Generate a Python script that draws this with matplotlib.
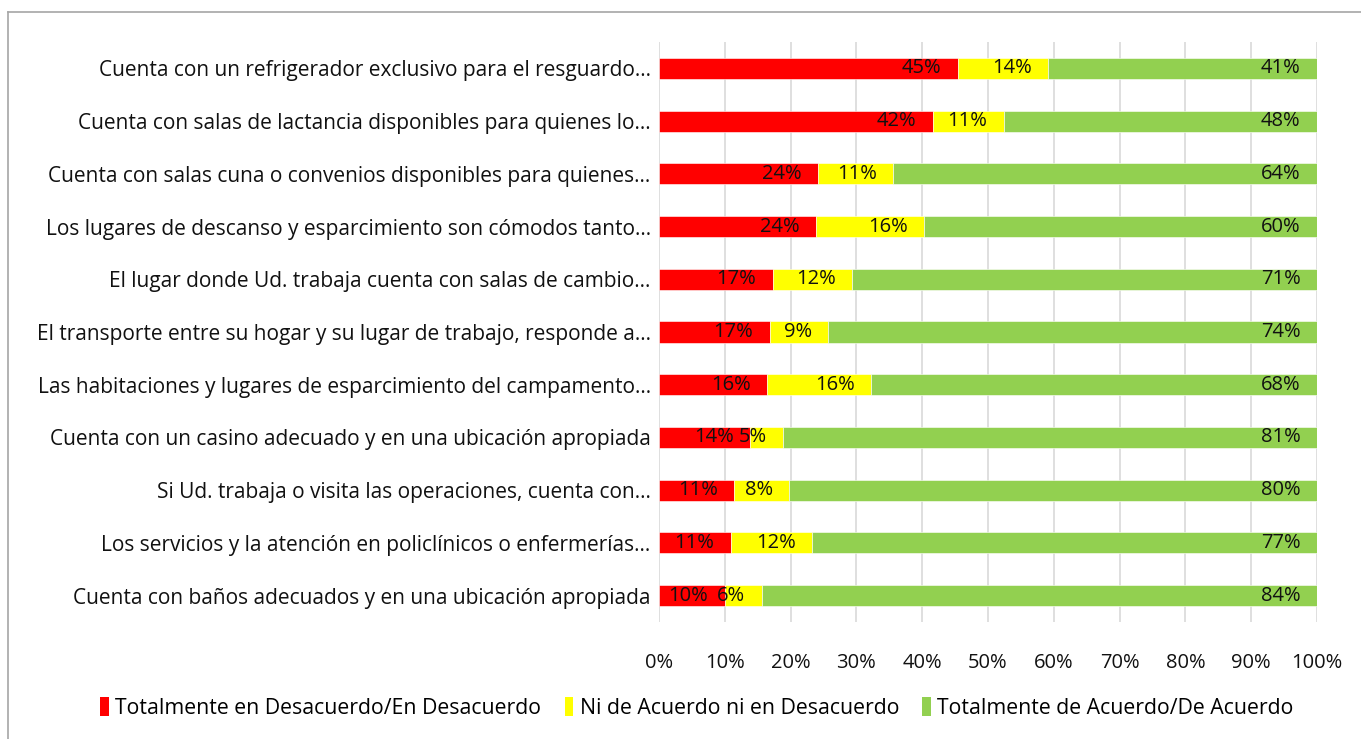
import matplotlib
matplotlib.use("Agg")
import matplotlib.pyplot as plt
from matplotlib.lines import Line2D
from matplotlib.patches import Patch

categories = [
    "Cuenta con un refrigerador exclusivo para el resguardo...",
    "Cuenta con salas de lactancia disponibles para quienes lo...",
    "Cuenta con salas cuna o convenios disponibles para quienes...",
    "Los lugares de descanso y esparcimiento son cómodos tanto...",
    "El lugar donde Ud. trabaja cuenta con salas de cambio...",
    "El transporte entre su hogar y su lugar de trabajo, responde a...",
    "Las habitaciones y lugares de esparcimiento del campamento...",
    "Cuenta con un casino adecuado y en una ubicación apropiada",
    "Si Ud. trabaja o visita las operaciones, cuenta con...",
    "Los servicios y la atención en policlínicos o enfermerías...",
    "Cuenta con baños adecuados y en una ubicación apropiada",
]
desacuerdo = [45.4, 41.6, 24.2, 23.9, 17.3, 16.8, 16.4, 13.9, 11.4, 10.9, 10.0]
neutral    = [13.7, 10.8, 11.4, 16.4, 12.1, 8.9, 15.8, 5.0, 8.4, 12.4, 5.6]
acuerdo    = [40.9, 47.6, 64.4, 59.7, 70.6, 74.3, 67.8, 81.1, 80.2, 76.7, 84.4]
series_names = ["Totalmente en Desacuerdo/En Desacuerdo",
                "Ni de Acuerdo ni en Desacuerdo",
                "Totalmente de Acuerdo/De Acuerdo"]
colors = ["#FF0000", "#FFFF00", "#92D050"]
xticks = [0, 10, 20, 30, 40, 50, 60, 70, 80, 90, 100]

FONT = "Open Sans"
FS_CAT = 15
FS_VAL = 14.5
FS_LEG = 15.3
TXT = "#111111"

W, H = 1361, 739
fig = plt.figure(figsize=(W / 100, H / 100), dpi=100)
ax = fig.add_axes([659 / W, 1 - 622 / H, (1317 - 659) / W, (622 - 42) / H])

n = len(categories)
ypos = list(range(n))
left = [0.0] * n
for vals, col, name in zip([desacuerdo, neutral, acuerdo], colors, series_names):
    ax.barh(ypos, vals, left=left, height=0.4, color=col, label=name,
            edgecolor="white", linewidth=0.4, zorder=3)
    for y, l, v in zip(ypos, left, vals):
        ax.text(l + v - 2.5, y, f"{v:.0f}%", ha="right", va="center",
                fontsize=FS_VAL, family=FONT, color=TXT, zorder=4)
    left = [a + b for a, b in zip(left, vals)]

ax.set_xlim(0, 100)
ax.set_ylim(n - 0.5, -0.5)
ax.set_yticks(ypos)
ax.set_yticklabels(categories, family=FONT, fontsize=FS_CAT, color=TXT)
ax.set_xticks(xticks)
ax.set_xticklabels([f"{t}%" for t in xticks], family=FONT, fontsize=FS_VAL, color=TXT)
ax.tick_params(axis="y", length=0, pad=6)
ax.tick_params(axis="x", length=0, pad=22)
ax.xaxis.grid(True, color="#D9D9D9", linewidth=1.2, zorder=0)
for s in ax.spines.values():
    s.set_visible(False)

handles = [Patch(facecolor=c, edgecolor="none") for c in colors]
fig.legend(handles, series_names, loc="center", bbox_to_anchor=(697 / W, 1 - 708 / H),
           ncol=3, frameon=False, prop={"family": FONT, "size": FS_LEG},
           handlelength=0.4, handleheight=1.0, handletextpad=0.3, columnspacing=1.1)

# chart border (left and top)
fig.add_artist(Line2D([8 / W, 8 / W], [0, 1 - 12 / H], transform=fig.transFigure,
                      color="#A6A6A6", linewidth=1.2))
fig.add_artist(Line2D([8 / W, 1], [1 - 12 / H, 1 - 12 / H], transform=fig.transFigure,
                      color="#A6A6A6", linewidth=1.2))

fig.savefig("out.png", dpi=100, facecolor="white")
